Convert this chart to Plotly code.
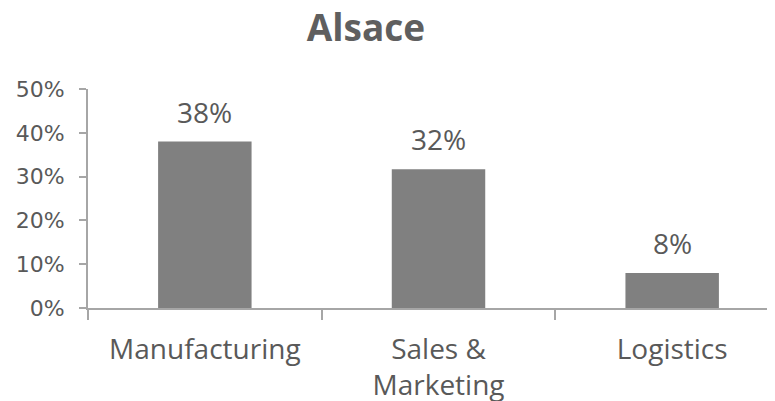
import plotly.graph_objects as go

categories = ["Manufacturing", "Sales &<br>Marketing", "Logistics"]
shares = [0.38, 0.317, 0.08]
labels = ["38%", "32%", "8%"]

GREY_TEXT = "#595959"
AXIS_GREY = "#a6a6a6"

fig = go.Figure(
    go.Bar(
        x=categories,
        y=shares,
        width=0.4,
        marker=dict(color="#808080", line=dict(width=0)),
        hoverinfo="skip",
    )
)

# value labels sit a bit above each bar
for cat, val, lab in zip(categories, shares, labels):
    fig.add_annotation(
        x=cat, y=val, text=lab, showarrow=False,
        yanchor="bottom", yshift=9,
        font=dict(family="Open Sans", size=28, color=GREY_TEXT),
    )

fig.update_xaxes(
    range=[-0.5, 2.47],
    showline=True, linecolor=AXIS_GREY, linewidth=2,
    ticks="outside", tickson="boundaries", ticklen=10, tickwidth=2, tickcolor=AXIS_GREY,
    ticklabelstandoff=15,
    tickfont=dict(family="Open Sans", size=28, color=GREY_TEXT),
    showgrid=False, zeroline=False,
)
fig.update_yaxes(
    range=[0, 0.5], dtick=0.1, tickformat=".0%",
    showline=True, linecolor=AXIS_GREY, linewidth=2,
    ticks="outside", ticklen=7, tickwidth=2, tickcolor=AXIS_GREY,
    ticklabelstandoff=10,
    tickfont=dict(family="DejaVu Sans", size=22, color=GREY_TEXT),
    showgrid=False, zeroline=False,
)

# the page body adds an 8px offset, so margins are shifted to compensate
fig.update_layout(
    width=775, height=401,
    margin=dict(l=80, r=1, t=81, b=101),
    plot_bgcolor="white", paper_bgcolor="white",
    showlegend=False,
    title=dict(
        text="<b>Alsace</b>", x=358 / 775, xanchor="center",
        y=1 - 20 / 401, yanchor="middle",
        font=dict(family="Open Sans", size=37, color="#5f5f5f"),
    ),
)

fig.write_html("out.html")
